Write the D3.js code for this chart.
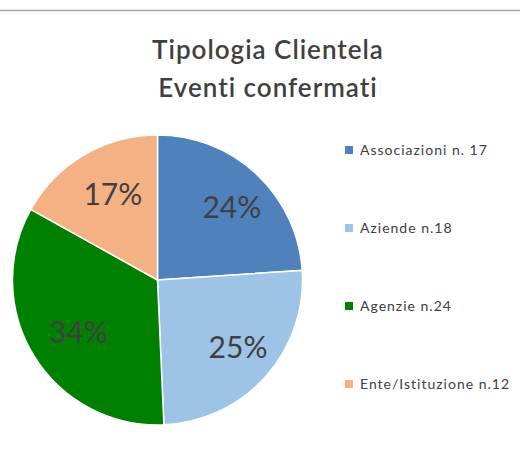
<!DOCTYPE html>
<html>
<head>
<meta charset="utf-8">
<script src="https://cdn.jsdelivr.net/npm/d3@7"></script>
<style>
  html, body { margin: 0; padding: 0; background: #fff; }
  svg { display: block; }
  text { font-family: Lato, "Open Sans", sans-serif; fill: #404040; }
</style>
</head>
<body>
<svg id="chart" width="520" height="453"></svg>
<script>
// Client types for confirmed events
const categories = ["Associazioni", "Aziende", "Agenzie", "Ente/Istituzione"];
const counts = [17, 18, 24, 12];
const legendLabels = ["Associazioni n. 17", "Aziende n.18", "Agenzie n.24", "Ente/Istituzione n.12"];
const sliceColors = ["#4F81BD", "#9DC3E6", "#008000", "#F4B183"];
const titleLines = ["Tipologia Clientela", "Eventi confermati"];

const svg = d3.select("#chart");
const W = 520, H = 453;

// thin rule along the top
svg.append("line")
  .attr("x1", 0).attr("x2", W)
  .attr("y1", 10.5).attr("y2", 10.5)
  .attr("stroke", "#a6a6a6").attr("stroke-width", 1.5);

// title
svg.append("g").selectAll("text")
  .data(titleLines)
  .join("text")
  .attr("x", 268)
  .attr("y", (d, i) => 59 + i * 38)
  .attr("text-anchor", "middle")
  .attr("font-size", 26)
  .attr("font-weight", 600)
  .attr("letter-spacing", 1)
  .text(d => d);

// pie
const cx = 157.5, cy = 280, R = 145;
const data = categories.map((c, i) => ({ name: c, value: counts[i] }));
const total = d3.sum(counts);
const pie = d3.pie().value(d => d.value).sort(null);
const arcs = pie(data);
const arc = d3.arc().innerRadius(0).outerRadius(R);
const labelArc = d3.arc().innerRadius(100).outerRadius(100);
const color = d3.scaleOrdinal().domain(categories).range(sliceColors);

const g = svg.append("g").attr("transform", `translate(${cx},${cy})`);
g.selectAll("path")
  .data(arcs)
  .join("path")
  .attr("d", arc)
  .attr("fill", d => color(d.data.name))
  .attr("stroke", "#fff")
  .attr("stroke-width", 1.5);

g.selectAll("text.pct")
  .data(arcs)
  .join("text")
  .attr("class", "pct")
  .attr("transform", d => {
    const [x, y] = labelArc.centroid(d);
    return `translate(${x + 6},${y})`;
  })
  .attr("text-anchor", "middle")
  .attr("dy", "0.36em")
  .attr("font-size", 30)
  .text(d => Math.round(d.data.value / total * 100) + "%");

// legend
const legend = svg.append("g")
  .selectAll("g")
  .data(categories)
  .join("g")
  .attr("transform", (d, i) => `translate(345,${150 + i * 78})`);
legend.append("rect")
  .attr("x", 0).attr("y", -4)
  .attr("width", 8).attr("height", 8)
  .attr("fill", d => color(d));
legend.append("text")
  .attr("x", 15).attr("y", 0)
  .attr("dy", "0.35em")
  .attr("font-size", 14)
  .attr("letter-spacing", 1)
  .text((d, i) => legendLabels[i]);
</script>
</body>
</html>
